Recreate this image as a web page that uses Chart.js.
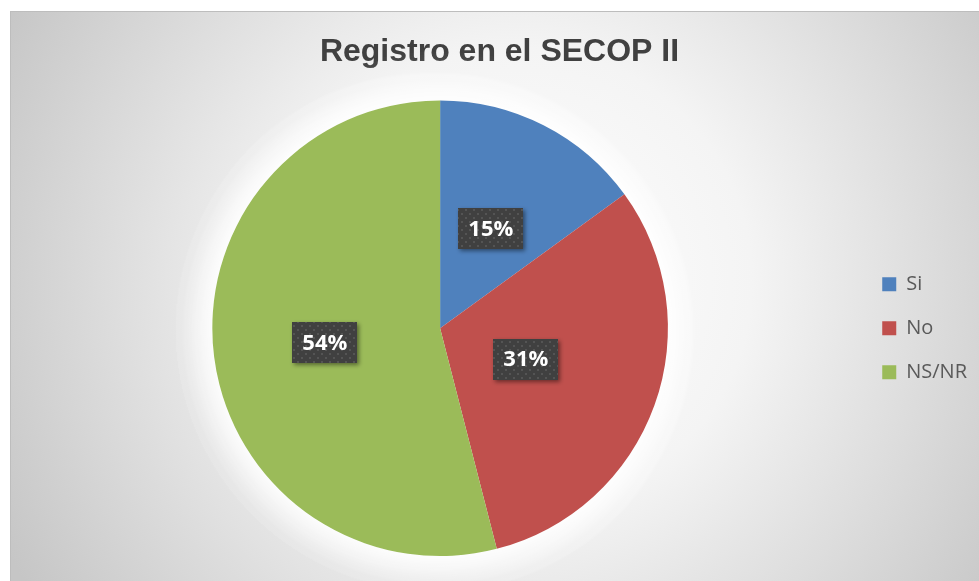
<!DOCTYPE html>
<html>
<head>
<meta charset="utf-8">
<script src="https://cdn.jsdelivr.net/npm/chart.js@4.4.1/dist/chart.umd.min.js"></script>
<style>
  html, body { margin: 0; padding: 0; background: #fff; }
  #wrap { width: 979px; height: 581px; }
</style>
</head>
<body>
<div id="wrap"><canvas id="pie-chart"></canvas></div>
<script>
const categories = ["Si", "No", "NS/NR"];
const percentages = [15, 31, 54];
const sliceColors = ["#4F81BD", "#C0504D", "#9BBB59"];
const chartTitle = "Registro en el SECOP II";

// label box distance from centre, as a share of the radius (Excel "best fit" look)
const labelDistance = [0.49, 0.40, 0.51];

// dotted dark fill used by the data label boxes
function dotPattern(ctx) {
  const c = document.createElement("canvas");
  c.width = 8; c.height = 8;
  const p = c.getContext("2d");
  p.fillStyle = "#404040";
  p.fillRect(0, 0, 8, 8);
  p.fillStyle = "#545454";
  p.fillRect(1, 1, 2, 2);
  p.fillRect(5, 5, 2, 2);
  return ctx.createPattern(c, "repeat");
}

const excelLook = {
  id: "excelLook",
  beforeDraw(chart) {
    const ctx = chart.ctx;
    ctx.save();
    ctx.fillStyle = "#fff";
    ctx.fillRect(0, 0, chart.width, chart.height);
    const g = ctx.createRadialGradient(520, 280, 0, 520, 280, 580);
    g.addColorStop(0, "#ffffff");
    g.addColorStop(0.4, "#f4f4f4");
    g.addColorStop(1, "#c6c6c6");
    ctx.fillStyle = g;
    ctx.fillRect(10, 11, chart.width - 10, chart.height - 11);
    ctx.strokeStyle = "#bdbdbd";
    ctx.lineWidth = 1;
    ctx.strokeRect(10.5, 11.5, chart.width, chart.height);
    ctx.restore();
  },
  beforeDatasetsDraw(chart) {
    // soft white glow round the pie
    const arc = chart.getDatasetMeta(0).data[0];
    if (!arc) return;
    const { x, y, outerRadius } = arc.getProps(["x", "y", "outerRadius"], true);
    const ctx = chart.ctx;
    ctx.save();
    ctx.fillStyle = "#fff";
    ctx.shadowColor = "#fff";
    ctx.shadowBlur = 45;
    for (let i = 0; i < 3; i++) {
      ctx.beginPath();
      ctx.arc(x, y, outerRadius, 0, Math.PI * 2);
      ctx.fill();
    }
    ctx.restore();
  },
  afterDatasetsDraw(chart) {
    const ctx = chart.ctx;
    const fill = dotPattern(ctx);
    chart.getDatasetMeta(0).data.forEach((arc, i) => {
      const p = arc.getProps(["x", "y", "startAngle", "endAngle", "outerRadius"], true);
      const mid = (p.startAngle + p.endAngle) / 2;
      const r = p.outerRadius * labelDistance[i];
      const cx = p.x + Math.cos(mid) * r;
      const cy = p.y + Math.sin(mid) * r;
      const w = 65, h = 41;
      ctx.save();
      ctx.shadowColor = "rgba(0,0,0,0.45)";
      ctx.shadowBlur = 4;
      ctx.shadowOffsetX = 2;
      ctx.shadowOffsetY = 2;
      ctx.fillStyle = fill;
      ctx.fillRect(Math.round(cx - w / 2), Math.round(cy - h / 2), w, h);
      ctx.restore();
      ctx.save();
      ctx.fillStyle = "#fff";
      ctx.font = "bold 22px 'Open Sans'";
      ctx.textAlign = "center";
      ctx.textBaseline = "middle";
      ctx.fillText(percentages[i] + "%", cx, cy + 1);
      ctx.restore();
    });
  }
};

new Chart(document.getElementById("pie-chart"), {
  type: "pie",
  data: {
    labels: categories,
    datasets: [{
      data: percentages,
      backgroundColor: sliceColors,
      borderWidth: 0
    }]
  },
  options: {
    responsive: true,
    maintainAspectRatio: false,
    animation: false,
    layout: { padding: { left: 22, right: 2, top: 0, bottom: 25 } },
    plugins: {
      title: {
        display: true,
        text: chartTitle,
        color: "#404040",
        font: { family: "'Liberation Sans', Arial", size: 32, weight: "bold" },
        padding: { top: 33, bottom: 29 }
      },
      legend: {
        position: "right",
        fullSize: false,
        labels: {
          boxWidth: 14,
          boxHeight: 14,
          padding: 24,
          color: "#595959",
          font: { family: "'Open Sans'", size: 20 }
        }
      },
      tooltip: { enabled: false }
    }
  },
  plugins: [excelLook]
});
</script>
</body>
</html>
